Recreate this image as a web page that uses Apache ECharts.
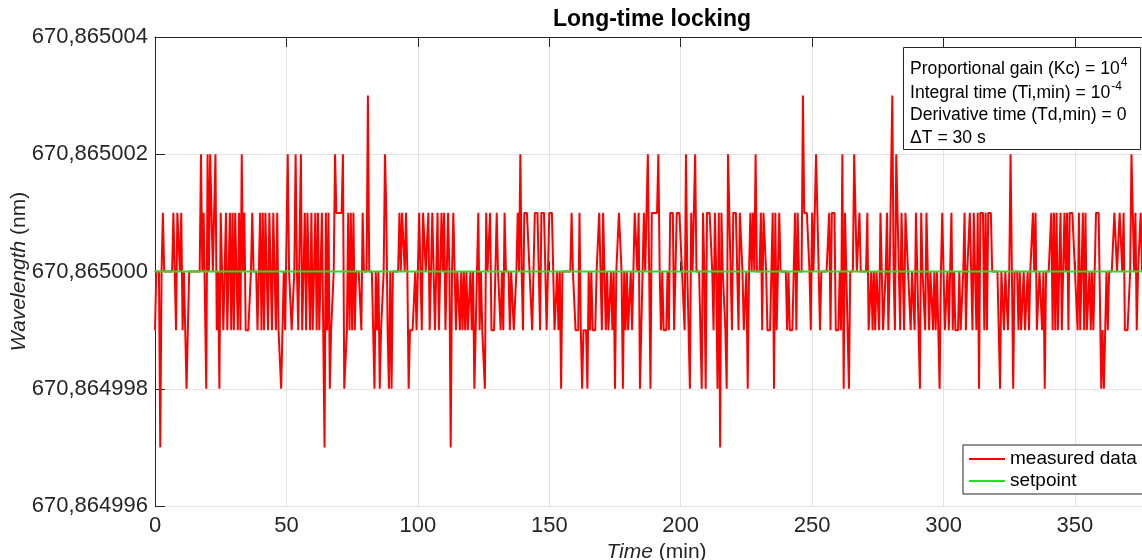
<!DOCTYPE html>
<html>
<head>
<meta charset="utf-8">
<title>Long-time locking</title>
<script src="https://cdn.jsdelivr.net/npm/echarts@6/dist/echarts.min.js"></script>
<style>
    html, body { margin: 0; padding: 0; background: #fff; }
    #chart { width: 1142px; height: 560px; }
</style>
</head>
<body>
<div id="chart"></div>
<script>
// wavelength = baseNm + offset * stepNm, one reading every 30 s (0.5 min)
var baseNm = 670.865;
var stepNm = 1e-6;
var sampleMin = 0.5;

// offsets, 100 readings (50 min) per block
var block0 = [
    -1,0,0,0,-3,0,1,0,0,0, 0,0,0,0,1,0,-1,1,1,0, 1,-1,0,-1,-2,-2,0,0,0,0, 0,0,0,0,0,2,0,1,1,-2,
    2,0,2,1,0,1,2,-1,0,-2, 1,1,-1,-1,1,-1,-1,1,-1,1, -1,1,1,-1,1,-1,2,0,1,-1, -1,-1,-1,0,1,0,0,0,-1,-1,
    1,-1,1,-1,1,1,-1,1,1,-1, 1,1,-1,1,-1,-1,-2,-1,0,-1
];
var block1 = [
    -1,2,0,0,-1,-1,0,2,0,-1, -1,2,-1,-1,1,-1,1,1,-1,1, -1,-1,1,-1,1,-1,-1,1,-1,-3, 1,-1,1,-2,-1,-1,0,2,1,1,
    1,1,1,2,-2,-2,-1,1,-1,1, -1,1,-1,0,0,0,0,-1,1,0, 0,0,3,0,0,0,0,-2,0,-1, 0,-2,-1,-1,0,2,1,-1,-2,0,
    -2,0,0,0,0,0,1,0,1,1, 0,1,0,-2,-1,-1,-1,-1,0,-1
];
var block2 = [
    -1,1,0,-1,1,1,0,0,1,-1, -1,1,0,-1,-1,1,-1,-1,1,0, 1,-1,0,1,0,-3,0,1,1,-1, 0,0,-1,0,-1,0,-1,0,-1,-1,
    0,-1,0,-2,-1,0,1,-1,0,-1, -1,-2,1,0,0,1,-1,-1,-1,-1, 1,0,0,-1,0,-1,1,0,0,0, -1,0,0,-1,-1,0,1,0,2,0,
    -1,1,1,1,1,0,0,-1,0,1, 1,1,0,-1,1,1,1,0,-1,-1
];
var block3 = [
    1,1,1,1,-1,-1,0,-1,0,-2, 0,0,0,0,0,0,0,1,0,0, -1,-1,-1,1,-1,-2,-1,-1,-1,-2, 0,-1,0,-1,-1,-1,0,0,1,0,
    -1,1,0,-1,0,-1,-1,0,-1,0, -2,0,0,1,1,0,-2,0,-1,0, -1,-1,0,-1,-1,1,1,0,1,-2, -1,-1,1,0,0,2,0,-2,1,1,
    1,1,1,2,0,-1,0,-1,-1,-1, 0,-1,1,1,1,-1,0,1,1,1
];
var block4 = [
    1,0,0,-1,2,0,0,-2,1,0, 0,2,0,0,0,0,-2,1,0,-2, 1,1,1,1,0,-1,1,0,-2,1, -3,1,0,0,-1,-2,2,1,1,-1,
    1,1,1,1,-1,1,1,0,-1,-1, 0,-2,0,1,0,1,0,2,0,0, 0,1,-1,1,1,0,-1,-1,-1,-1, 1,-2,1,-1,0,1,0,0,0,0,
    0,-1,0,-1,-1,-1,0,1,-1,1, 0,0,0,3,1,1,1,1,0,-1
];
var block5 = [
    1,0,0,2,2,0,-1,0,0,0, 0,0,0,1,-1,1,1,1,-1,-1, -1,0,-1,2,-2,1,1,-1,-2,0, 0,0,2,2,0,0,1,0,0,0,
    0,0,1,-1,-1,0,-1,0,-1,0, 0,-1,1,0,-1,-1,0,1,-1,0, 0,3,0,-1,2,2,0,-1,1,0, -1,1,1,0,0,-1,0,0,-1,1,
    0,0,-2,1,0,0,-1,1,1,-1, 0,0,-1,0,-1,0,0,-2,0,1
];
var block6 = [
    0,-1,-1,0,-1,0,1,-1,0,-1, -1,-1,0,-1,-1,0,1,-1,0,0, 1,1,-1,1,1,-1,1,-2,1,1, 1,-1,1,-1,1,1,1,0,0,0,
    0,0,-1,-2,0,0,-1,0,0,-1, 0,2,0,-2,0,0,0,-1,0,-1, -1,0,-1,-1,0,-1,0,0,1,0, 1,-1,-1,0,0,-1,0,-2,0,0,
    0,0,1,-1,1,-1,1,-1,-1,1, -1,-1,1,0,1,-1,1,1,1,1
];
var block7 = [
    0,0,-1,1,-1,-1,1,-1,1,-1, -1,0,-1,0,-1,-1,1,1,1,1, -2,-1,-2,-1,0,-1,0,0,0,0, 1,1,0,0,1,1,0,1,-1,-1,
    -1,-1,0,2,1,0,1,-1,0,0, 1,0
];
var setpointOffset = 0;

var xTicks = [0, 50, 100, 150, 200, 250, 300, 350];
var yTicks = [-4, -2, 0, 2, 4];

var offsets = block0.concat(block1, block2, block3, block4, block5, block6, block7);
var measured = offsets.map(function (v, i) { return [i * sampleMin, v]; });
var setpoint = offsets.map(function (v, i) { return [i * sampleMin, setpointOffset]; });
var xMax = (offsets.length - 1) * sampleMin;

var axisColor = '#262626';
var gridColor = '#e3e3e3';
var font = '"Liberation Sans", Arial, Helvetica, sans-serif';
var boxFont = 17.6;

function wavelengthLabel(v) {
    return (baseNm + v * stepNm).toFixed(6).replace('.', ',');
}

// text with a raised exponent, e.g. 10^4
function supText(main, sup, y) {
    return {
        type: 'text',
        z: 101,
        x: 910, y: y,
        style: {
            text: '{t|' + main + '}{s|' + sup + '}',
            rich: {
                t: { fontSize: boxFont, fill: '#000', fontFamily: font, verticalAlign: 'bottom' },
                s: { fontSize: 12, fill: '#000', fontFamily: font, verticalAlign: 'bottom', padding: [0, 0, 9, 1] }
            }
        }
    };
}

var chart = echarts.init(document.getElementById('chart'));
chart.setOption({
    animation: false,
    textStyle: { fontFamily: font },
    grid: { left: 155, right: 0, top: 37, bottom: 54, outerBoundsMode: 'none' },
    xAxis: [{
        type: 'value',
        min: 0,
        max: xMax,
        interval: xTicks[1] - xTicks[0],
        name: '{it|Time} (min)',
        nameLocation: 'middle',
        nameGap: 35,
        nameTextStyle: {
            fontSize: 21, color: axisColor, fontFamily: font, padding: [0, 0, 0, 16],
            rich: { it: { fontStyle: 'italic', fontSize: 21, color: axisColor, fontFamily: font } }
        },
        axisLine: { show: true, lineStyle: { color: axisColor, width: 1 } },
        axisTick: { show: true, inside: true, length: 10, lineStyle: { color: axisColor } },
        axisLabel: { fontSize: 22, color: axisColor, margin: 9, showMaxLabel: false, fontFamily: font },
        splitLine: { show: true, lineStyle: { color: gridColor, width: 1 } }
    }, {
        type: 'value',
        position: 'top',
        min: 0,
        max: xMax,
        interval: xTicks[1] - xTicks[0],
        axisLine: { show: true, lineStyle: { color: axisColor, width: 1 } },
        axisTick: { show: true, inside: true, length: 10, lineStyle: { color: axisColor } },
        axisLabel: { show: false },
        splitLine: { show: false }
    }],
    yAxis: {
        type: 'value',
        min: yTicks[0],
        max: yTicks[yTicks.length - 1],
        interval: yTicks[1] - yTicks[0],
        name: '{it|Wavelength} (nm)',
        nameLocation: 'middle',
        nameGap: 125,
        nameMoveOverlap: false,
        nameTextStyle: {
            fontSize: 21, color: axisColor, fontFamily: font,
            rich: { it: { fontStyle: 'italic', fontSize: 21, color: axisColor, fontFamily: font } }
        },
        axisLine: { show: true, lineStyle: { color: axisColor, width: 1 } },
        axisTick: { show: true, inside: true, length: 10, lineStyle: { color: axisColor } },
        axisLabel: { fontSize: 22, color: axisColor, margin: 7, formatter: wavelengthLabel, fontFamily: font },
        splitLine: { show: true, lineStyle: { color: gridColor, width: 1 } }
    },
    legend: {
        orient: 'vertical',
        left: 963,
        top: 445,
        padding: [4, 6, 3, 6],
        itemGap: 2,
        itemWidth: 36,
        itemHeight: 2,
        icon: 'rect',
        backgroundColor: '#fff',
        borderColor: axisColor,
        borderWidth: 1,
        borderRadius: 0,
        textStyle: { fontSize: 19, color: '#000', fontFamily: font, lineHeight: 20 },
        data: ['measured data', 'setpoint']
    },
    series: [{
        name: 'measured data',
        type: 'line',
        data: measured,
        symbol: 'none',
        lineStyle: { color: '#ff0000', width: 2 },
        itemStyle: { color: '#ff0000' }
    }, {
        name: 'setpoint',
        type: 'line',
        data: setpoint,
        symbol: 'none',
        lineStyle: { color: '#22e022', width: 2 },
        itemStyle: { color: '#22e022' }
    }],
    graphic: [{
        type: 'text',
        left: 553,
        top: 8,
        z: 100,
        style: { text: 'Long-time locking', fill: '#000', font: 'bold 23px ' + font }
    }, {
        type: 'rect',
        z: 100,
        shape: { x: 903.5, y: 47.5, width: 237, height: 102 },
        style: { fill: '#fff', stroke: axisColor, lineWidth: 1 }
    },
        supText('Proportional gain (Kc) = 10', '4', 57),
        supText('Integral time (Ti,min) = 10', '-4', 81), {
        type: 'text',
        z: 101,
        x: 910, y: 106,
        style: { text: 'Derivative time (Td,min) = 0', fontSize: boxFont, fill: '#000', fontFamily: font }
    }, {
        type: 'text',
        z: 101,
        x: 910, y: 129,
        style: { text: '\u0394T = 30 s', fontSize: boxFont, fill: '#000', fontFamily: font }
    }]
});
</script>
</body>
</html>
